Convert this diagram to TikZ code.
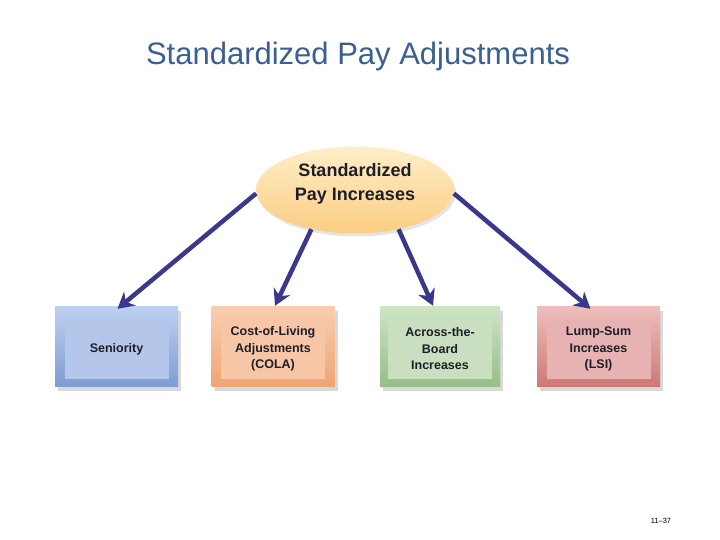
\documentclass[tikz,border=0pt]{standalone}
\usepackage{fontspec}
\setmainfont{Liberation Sans}
\usetikzlibrary{shapes.geometric,arrows.meta,shadows,calc}
\definecolor{titleblue}{RGB}{58,95,145}
\definecolor{arrowcol}{RGB}{58,56,140}
\definecolor{txt}{RGB}{30,30,40}
\begin{document}
\begin{tikzpicture}[x=1pt,y=1pt,
  outerbox/.style={minimum width=123pt,minimum height=80pt,inner sep=0pt,
    drop shadow={shadow xshift=3pt,shadow yshift=-4pt,opacity=0.25,fill=black!60}},
  innerbox/.style={minimum width=104pt,minimum height=60pt,inner sep=0pt,yshift=-2pt,
    font=\bfseries\fontsize{12.5}{16.5}\selectfont,text=txt,align=center},
  conn/.style={draw=arrowcol,line width=4.5pt,-{Stealth[length=16pt,width=18pt]}}]
\useasboundingbox (0,0) rectangle (720,540);
\fill[white] (0,0) rectangle (720,540);
% title
\node[text=titleblue,font=\fontsize{31}{34}\selectfont] (title) at (358,484) {Standardized Pay Adjustments};
% boxes
\node[outerbox,top color={rgb,255:red,190;green,208;blue,240},bottom color={rgb,255:red,125;green,156;blue,210}] (b1) at (116.5,193) {};
\node[innerbox,fill={rgb,255:red,180;green,199;blue,234}] (i1) at (b1.center) {Seniority};
\node[outerbox,top color={rgb,255:red,250;green,205;blue,175},bottom color={rgb,255:red,238;green,165;blue,115}] (b2) at (273,193) {};
\node[innerbox,fill={rgb,255:red,246;green,198;blue,166}] (i2) at (b2.center) {Cost-of-Living\\Adjustments\\(COLA)};
\node[outerbox,minimum width=120pt,top color={rgb,255:red,205;green,228;blue,196},bottom color={rgb,255:red,150;green,190;blue,135}] (b3) at (440,193) {};
\node[innerbox,fill={rgb,255:red,201;green,223;blue,192}] (i3) at (b3.center) {Across-the-\\Board\\Increases};
\node[outerbox,top color={rgb,255:red,238;green,190;blue,188},bottom color={rgb,255:red,205;green,120;blue,118}] (b4) at (598.5,193) {};
\node[innerbox,fill={rgb,255:red,230;green,179;blue,178}] (i4) at (b4.center) {Lump-Sum\\Increases\\(LSI)};
% ellipse
\node[ellipse,minimum width=198pt,minimum height=87pt,inner sep=0pt,
  top color={rgb,255:red,255;green,238;blue,200},bottom color={rgb,255:red,250;green,205;blue,130},
  drop shadow={shadow xshift=2pt,shadow yshift=-3pt,opacity=0.2,fill=black!50}] (ell) at (355,350) {};
% arrows
\draw[conn] (ell.182) -- ($(b1.north)+(1,-2)$);
\draw[conn] (ell.222) -- ($(b2.north)+(2,1)$);
\draw[conn] (ell.318) -- ($(b3.north)+(-7,1)$);
\draw[conn] (ell.358) -- ($(b4.north)+(-8,-2)$);
\node[align=center,text=txt,font=\bfseries\fontsize{18}{24}\selectfont] (etext) at ($(ell.center)+(0,6)$) {Standardized\\Pay Increases};
\node[font=\fontsize{7.5}{9}\selectfont,text=black] (pg) at (661,19) {11--37};
\end{tikzpicture}
\end{document}
